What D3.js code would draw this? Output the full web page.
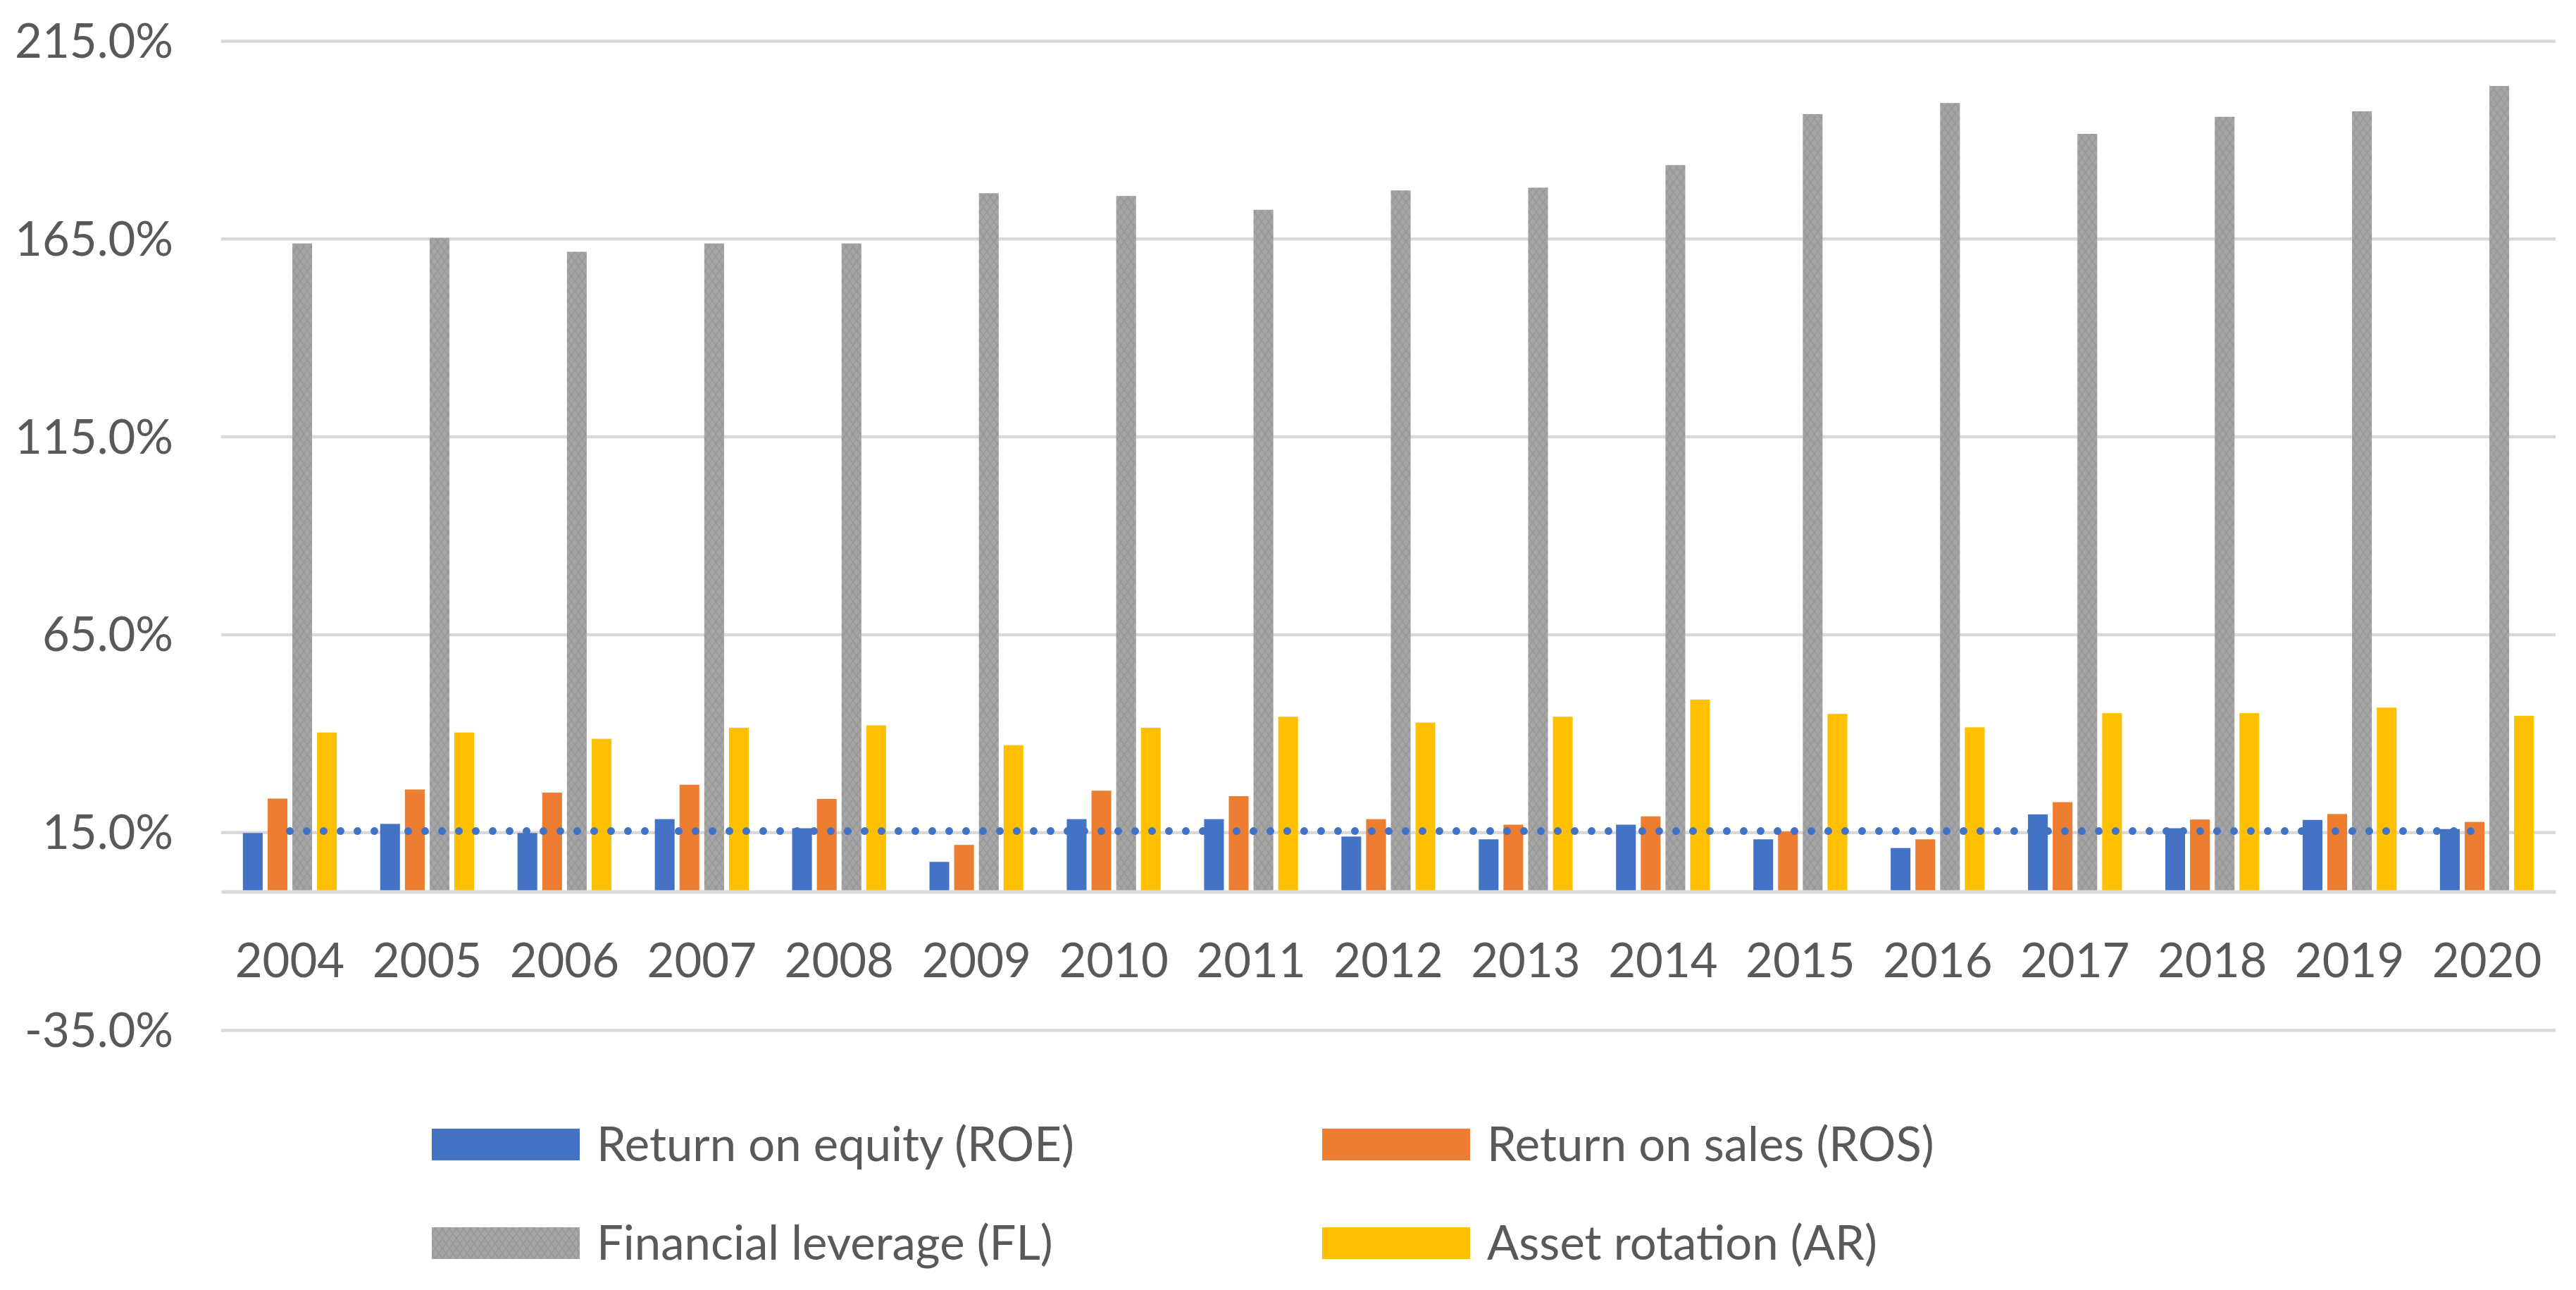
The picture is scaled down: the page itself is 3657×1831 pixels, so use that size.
<!DOCTYPE html>
<html>
<head>
<meta charset="utf-8">
<script src="https://cdn.jsdelivr.net/npm/d3@7"></script>
<style>
  body { margin: 0; background: #fff; }
  text { font-family: Lato, "Open Sans", sans-serif; fill: #595959; }
</style>
</head>
<body>
<svg id="chart"></svg>
<script>
var years = ['2004', '2005', '2006', '2007', '2008', '2009', '2010', '2011', '2012', '2013', '2014', '2015', '2016', '2017', '2018', '2019', '2020'];
var roe = [14.8, 17.1, 14.8, 18.3, 16.0, 7.5, 18.3, 18.3, 13.9, 13.2, 16.9, 13.2, 11.0, 19.5, 16.0, 18.1, 15.8];
var ros = [23.5, 25.8, 25.0, 27.0, 23.4, 11.8, 25.5, 24.1, 18.3, 16.9, 19.0, 15.2, 13.2, 22.6, 18.2, 19.6, 17.6];
var fl = [163.8, 165.2, 161.7, 163.8, 163.8, 176.5, 175.8, 172.3, 177.2, 177.9, 183.6, 196.5, 199.3, 191.5, 195.8, 197.2, 203.6];
var ar = [40.2, 40.2, 38.6, 41.4, 42.0, 37.0, 41.4, 44.2, 42.7, 44.2, 48.5, 44.9, 41.5, 45.1, 45.1, 46.5, 44.4];
var roeAverage = 15.3;
var yTicks = [-35, 15, 65, 115, 165, 215];
var seriesNames = ['Return on equity (ROE)', 'Return on sales (ROS)', 'Financial leverage (FL)', 'Asset rotation (AR)'];
var seriesValues = [roe, ros, fl, ar];
var seriesColors = ['#4472C4', '#ED7D31', 'url(#weave)', '#FFC000'];

var width = 3657, height = 1831;
var plot = { left: 314, right: 3628, top: 58, bottom: 1462 };

var svg = d3.select('#chart').attr('width', width).attr('height', height);
svg.append('rect').attr('width', width).attr('height', height).attr('fill', '#fff');

// pattern for the gray bars (excel texture)
var pat = svg.append('defs').append('pattern')
  .attr('id', 'weave').attr('patternUnits', 'userSpaceOnUse')
  .attr('width', 10).attr('height', 14);
pat.append('rect').attr('width', 10).attr('height', 14).attr('fill', '#A5A5A5');
pat.append('path')
  .attr('d', 'M0,0 L5,7 L0,14 M10,0 L5,7 L10,14')
  .attr('stroke', '#989898').attr('stroke-width', 1.6).attr('fill', 'none');

var x0 = d3.scaleBand().domain(years).range([plot.left, plot.right]).paddingInner(0.28).paddingOuter(0.14);
var x1 = d3.scaleBand().domain(d3.range(4)).range([0, x0.bandwidth()]).paddingInner(0.2).paddingOuter(0.1);
var y = d3.scaleLinear().domain([-35, 215]).range([plot.bottom, plot.top]);

// gridlines + y labels
var yAxis = d3.axisLeft(y)
  .tickValues(yTicks)
  .tickSize(-(plot.right - plot.left))
  .tickPadding(68)
  .tickFormat(function (d) { return d.toFixed(1) + '%'; });

var gy = svg.append('g').attr('transform', 'translate(' + plot.left + ',0)').call(yAxis);
gy.select('.domain').remove();
gy.selectAll('.tick line').attr('stroke', '#D9D9D9').attr('stroke-width', 4.5);
gy.selectAll('.tick text').attr('font-size', 67).attr('fill', '#595959').attr('dy', '0.35em');

// bars
var groups = svg.append('g').selectAll('g')
  .data(years)
  .join('g')
  .attr('transform', function (d) { return 'translate(' + x0(d) + ',0)'; });

groups.selectAll('rect')
  .data(function (d, i) { return seriesValues.map(function (s, k) { return { k: k, v: s[i] }; }); })
  .join('rect')
  .attr('x', function (d) { return x1(d.k); })
  .attr('width', x1.bandwidth())
  .attr('y', function (d) { return y(Math.max(0, d.v)); })
  .attr('height', function (d) { return Math.abs(y(d.v) - y(0)); })
  .attr('fill', function (d) { return seriesColors[d.k]; });

// category axis at 0
var xAxis = d3.axisBottom(x0).tickSize(0).tickPadding(74);
var gx = svg.append('g').attr('transform', 'translate(0,' + y(0) + ')').call(xAxis);
gx.select('.domain').attr('stroke', '#D9D9D9').attr('stroke-width', 5);
gx.selectAll('.tick text').attr('font-size', 67).attr('fill', '#595959');

// dotted average line
var half = x0.bandwidth() / 2;
var avgLine = d3.line()
  .x(function (d) { return x0(d) + half; })
  .y(function () { return y(roeAverage); });
svg.append('path')
  .datum([years[0], years[years.length - 1]])
  .attr('d', avgLine)
  .attr('fill', 'none')
  .attr('stroke', '#4472C4')
  .attr('stroke-width', 11)
  .attr('stroke-linecap', 'round')
  .attr('stroke-dasharray', '0 24');

// legend
var legendX = [613, 1877];
var legendY = [1625, 1765];
var legend = svg.append('g').selectAll('g')
  .data(seriesNames)
  .join('g')
  .attr('transform', function (d, i) { return 'translate(' + legendX[i % 2] + ',' + legendY[Math.floor(i / 2)] + ')'; });
legend.append('rect')
  .attr('x', 0).attr('y', -23).attr('width', 210).attr('height', 45)
  .attr('fill', function (d, i) { return seriesColors[i]; });
legend.append('text')
  .attr('x', 234).attr('y', 0).attr('dy', '0.35em')
  .attr('font-size', 67)
  .text(function (d) { return d; });
</script>
</body>
</html>
